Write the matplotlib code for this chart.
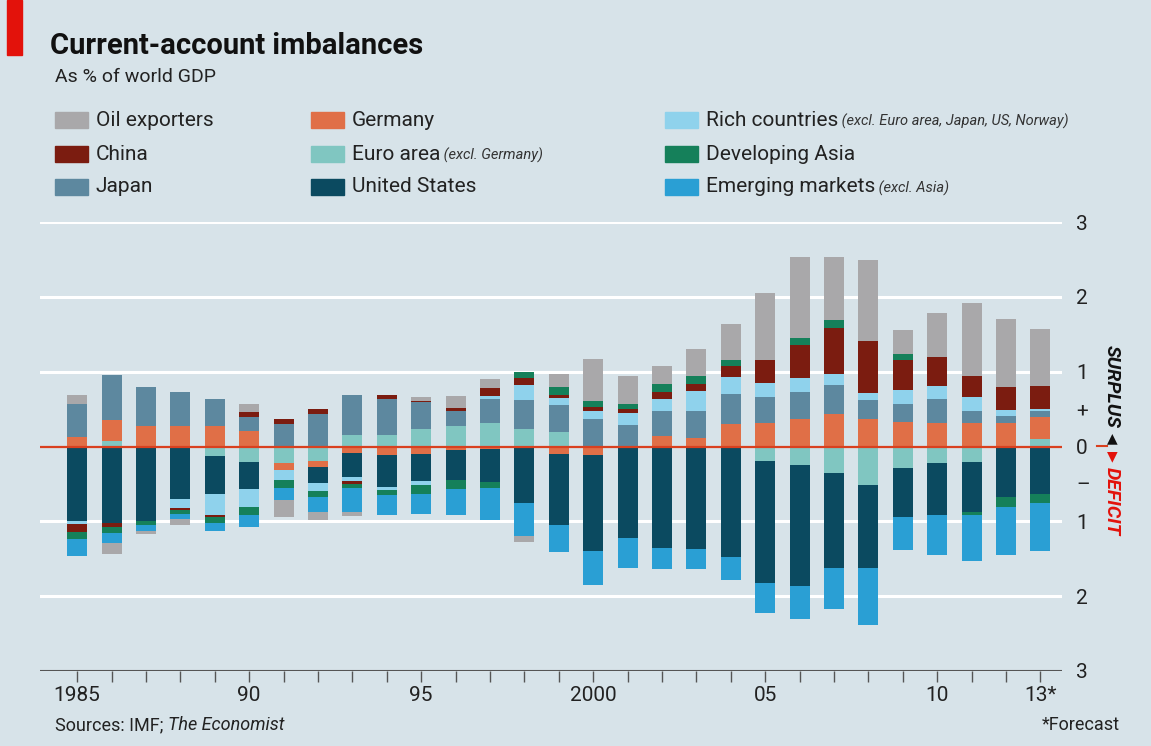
import numpy as np
import matplotlib
matplotlib.use("Agg")
import matplotlib.pyplot as plt
from matplotlib.patches import Rectangle

# Current-account balances, % of world GDP
years = list(range(1985, 2014))

euro = [0, 0.08, 0, 0, -0.13, -0.21, -0.22, -0.19, 0.16, 0.16,
        0.24, 0.27, 0.32, 0.24, 0.19, 0, 0, 0, 0, 0,
        -0.20, -0.25, -0.36, -0.52, -0.29, -0.22, -0.21, 0, 0.10]
germany = [0.13, 0.27, 0.27, 0.27, 0.28, 0.21, -0.10, -0.09, -0.09, -0.12,
           -0.10, -0.05, -0.04, 0, -0.10, -0.11, 0, 0.14, 0.12, 0.30,
           0.32, 0.37, 0.44, 0.37, 0.33, 0.32, 0.31, 0.32, 0.29]
us = [-1.00, -1.02, -1.00, -0.70, -0.51, -0.36, 0, -0.21, -0.32, -0.42,
      -0.36, -0.40, -0.44, -0.76, -0.95, -1.28, -1.22, -1.36, -1.37, -1.47,
      -1.63, -1.62, -1.26, -1.10, -0.65, -0.70, -0.67, -0.67, -0.63]
japan = [0.44, 0.61, 0.53, 0.46, 0.36, 0.18, 0.30, 0.44, 0.53, 0.48,
         0.35, 0.21, 0.31, 0.38, 0.37, 0.37, 0.29, 0.33, 0.36, 0.40,
         0.34, 0.36, 0.38, 0.25, 0.24, 0.31, 0.17, 0.09, 0.09]
rich = [-0.04, 0, 0, -0.12, -0.27, -0.24, -0.13, -0.11, -0.05, -0.04,
        -0.05, 0, 0.04, 0.20, 0.09, 0.11, 0.16, 0.16, 0.26, 0.23,
        0.19, 0.19, 0.15, 0.10, 0.18, 0.18, 0.18, 0.08, 0.02]
china = [-0.10, -0.05, 0, -0.03, -0.03, 0.07, 0.07, 0.06, -0.04, 0.05,
         0.02, 0.03, 0.11, 0.10, 0.04, 0.05, 0.05, 0.10, 0.10, 0.15,
         0.31, 0.44, 0.62, 0.69, 0.41, 0.38, 0.28, 0.30, 0.31]
devasia = [-0.10, -0.08, -0.05, -0.05, -0.08, -0.11, -0.11, -0.07, -0.06, -0.07,
           -0.12, -0.12, -0.08, 0.07, 0.10, 0.08, 0.07, 0.10, 0.10, 0.07,
           0, 0.09, 0.10, 0, 0.07, 0, -0.03, -0.14, -0.13]
emerging = [-0.22, -0.14, -0.08, -0.07, -0.11, -0.16, -0.16, -0.21, -0.32, -0.27,
            -0.27, -0.34, -0.42, -0.43, -0.36, -0.46, -0.40, -0.28, -0.27, -0.31,
            -0.39, -0.44, -0.55, -0.77, -0.44, -0.53, -0.62, -0.64, -0.63]
oil = [0.12, -0.15, -0.04, -0.08, 0, 0.11, -0.22, -0.10, -0.05, 0,
       0.05, 0.17, 0.12, -0.09, 0.18, 0.56, 0.37, 0.24, 0.36, 0.49,
       0.89, 1.08, 0.84, 1.08, 0.33, 0.59, 0.98, 0.92, 0.76]

# stacking order, from the zero line outwards
series = [
    ("Euro area", euro, "#80c6c1"),
    ("Germany", germany, "#e06f47"),
    ("United States", us, "#0b4a60"),
    ("Japan", japan, "#5d889f"),
    ("Rich countries", rich, "#8fd2ec"),
    ("China", china, "#7b1c10"),
    ("Developing Asia", devasia, "#15805a"),
    ("Emerging markets", emerging, "#2a9fd4"),
    ("Oil exporters", oil, "#a9a8aa"),
]
colors = {name: c for name, vals, c in series}

bg = "#d7e3e9"
W, H = 1151, 746
fig = plt.figure(figsize=(W / 100, H / 100), dpi=100, facecolor=bg)

plt.rcParams["font.family"] = ["Roboto", "DejaVu Sans"]


def fx(x):
    return x / W


def fy(y):
    return 1 - y / H


ax = fig.add_axes([fx(40), fy(671), fx(1062) - fx(40), fy(222) - fy(671)])
ax.set_facecolor(bg)

x = np.array(years)
pos_bottom = np.zeros(len(years))
neg_bottom = np.zeros(len(years))
for name, vals, c in series:
    v = np.array(vals, dtype=float)
    p = np.where(v > 0, v, 0)
    n = np.where(v < 0, v, 0)
    ax.bar(x, p, width=0.58, bottom=pos_bottom, color=c, zorder=3, linewidth=0)
    ax.bar(x, n, width=0.58, bottom=neg_bottom, color=c, zorder=3, linewidth=0)
    pos_bottom += p
    neg_bottom += n

for g in [3, 2, 1, -1, -2]:
    ax.axhline(g, color="white", lw=2.2, zorder=1)
ax.axhline(0, color="#d9401f", lw=1.6, zorder=4)
ax.axhline(-3, color="#555555", lw=1.5, zorder=4)

ax.set_xlim(1983.92, 2013.63)
ax.set_ylim(-3, 3)
for s in ax.spines.values():
    s.set_visible(False)

ax.yaxis.tick_right()
ax.set_yticks([3, 2, 1, 0.5, 0, -0.5, -1, -2, -3])
ax.set_yticklabels(["3", "2", "1", "+", "0", "\u2013", "1", "2", "3"])
ax.tick_params(axis="y", length=0, pad=10, labelsize=15, labelcolor="#222222")

ax.set_xticks(years)
ax.set_xticklabels([str(y) if y in (1985, 2000) else
                    ("%02d" % (y % 100) if y % 5 == 0 else "") for y in years[:-1]] + ["13*"])
ax.tick_params(axis="x", length=8, width=1, color="#555555", pad=3,
               labelsize=15, labelcolor="#222222")

# red tag and titles
fig.add_artist(Rectangle((fx(7), fy(55)), fx(22) - fx(7), fy(0) - fy(55),
                         transform=fig.transFigure, color="#e3120b"))
fig.text(fx(50), fy(46), "Current-account imbalances", fontsize=21,
         fontweight="bold", va="center", ha="left", color="#111111")
fig.text(fx(55), fy(77), "As % of world GDP", fontsize=14, va="center",
         ha="left", color="#222222")

# legend
legend_rows = [
    [("Oil exporters", ""), ("Germany", ""),
     ("Rich countries", " (excl. Euro area, Japan, US, Norway)")],
    [("China", ""), ("Euro area", " (excl. Germany)"), ("Developing Asia", "")],
    [("Japan", ""), ("United States", ""), ("Emerging markets", " (excl. Asia)")],
]
col_x = [55, 311, 665]
row_y = [120, 154, 187]
for r, row in enumerate(legend_rows):
    for c_i, (name, note) in enumerate(row):
        x0 = col_x[c_i]
        y0 = row_y[r]
        fig.add_artist(Rectangle((fx(x0), fy(y0 + 8)), fx(33), 16 / H,
                                 transform=fig.transFigure, color=colors[name]))
        t = fig.text(fx(x0 + 41), fy(y0), name, fontsize=15, va="center",
                     ha="left", color="#222222")
        if note:
            fig.canvas.draw()
            bb = t.get_window_extent()
            fig.text(bb.x1 / W, fy(y0 + 1), note, fontsize=10.5, style="italic",
                     va="center", ha="left", color="#333333")

# surplus / deficit markers
fig.text(fx(1112), fy(386), "SURPLUS", rotation=270, fontsize=14,
         fontweight="bold", style="italic", ha="center", va="center", color="#111111")
fig.text(fx(1112), fy(438), "\u25b2", fontsize=10, ha="center", va="center",
         color="#111111", family="DejaVu Sans")
fig.text(fx(1112), fy(456), "\u25bc", fontsize=10, ha="center", va="center",
         color="#e3120b", family="DejaVu Sans")
fig.text(fx(1112), fy(501), "DEFICIT", rotation=270, fontsize=14,
         fontweight="bold", style="italic", ha="center", va="center", color="#e3120b")
fig.add_artist(plt.Line2D([fx(1097), fx(1107)], [fy(446), fy(446)],
                          transform=fig.transFigure, color="#d9401f", lw=1.5))

# footer
fig.text(fx(55), fy(725), "Sources: IMF; ", fontsize=13, va="center", ha="left",
         color="#222222")
fig.canvas.draw()
src = fig.texts[-1].get_window_extent()
fig.text(src.x1 / W, fy(725), "The Economist", fontsize=13, style="italic",
         va="center", ha="left", color="#222222")
fig.text(fx(1120), fy(725), "*Forecast", fontsize=13, va="center", ha="right",
         color="#222222")

fig.savefig("out.png", dpi=100, facecolor=bg)
